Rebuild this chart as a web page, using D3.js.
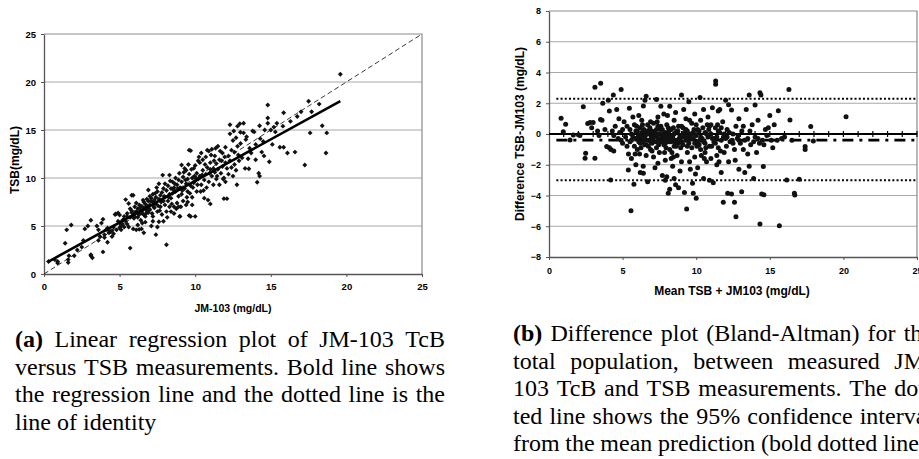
<!DOCTYPE html>
<html>
<head>
<meta charset="utf-8">
<script src="https://cdn.jsdelivr.net/npm/d3@7"></script>
<style>
  body { margin: 0; background: #fff; }
  svg { display: block; }
  .axis-label { font-family: "Liberation Sans", Arial, sans-serif; font-weight: bold; fill: #000; }
</style>
</head>
<body>
<svg id="figure"></svg>
<script>
// ---- data ----
const xTicks = [0, 5, 10, 15, 20, 25];
const leftYTicks = [0, 5, 10, 15, 20, 25];
const rightYTicks = [-8, -6, -4, -2, 0, 2, 4, 6, 8];

// (a) JM-103 (x) vs TSB (y)
const regressionPoints = [
  [0.3,1.3],[0.7,1.5],[0.9,1.15],[0.9,1.3],[1.4,3.2],[1.5,4.6],[1.6,1.5],[1.6,1.2],[1.65,1.9],[1.8,5.1],
  [2.0,1.9],[2.2,2.5],[2.6,3.5],[2.7,4.7],[2.9,5.0],[3.1,5.6],[3.1,2.0],[3.2,1.7],[3.1,1.9],[2.5,2.8],
  [3.5,5.0],[3.6,4.6],[3.6,3.5],[3.8,5.3],[3.9,5.7],[3.9,2.3],[4.0,4.1],[4.0,3.8],[4.2,3.3],[4.3,4.3],
  [4.3,4.5],[4.4,4.4],[4.5,3.9],[4.7,6.2],[4.8,4.6],[4.9,6.35],[4.9,5.5],[4.6,4.2],[4.2,4.8],[3.7,3.9],
  [4.1,4.6],[4.6,4.9],[4.75,6.25],[4.5,4.5],
  [5.0,6.15],[5.0,4.8],[5.1,5.0],[5.2,5.2],[5.3,4.9],[5.3,6.0],[5.4,7.75],[5.4,5.5],[5.5,5.2],[5.5,6.3],
  [5.6,7.35],[5.7,2.7],[5.7,5.9],[5.8,8.2],[5.8,6.6],[5.9,4.7],[5.9,6.1],[5.9,8.2],[5.6,4.9],[5.2,5.6],
  [5.0,5.3],[5.7,6.8],[5.5,6.0],[5.3,5.7],[5.1,4.6],[5.8,6.4],[5.95,5.8],
  [6.0,6.0],[6.0,7.0],[6.1,4.6],[6.1,6.5],[6.2,5.9],[6.2,6.8],[6.3,4.65],[6.3,7.2],[6.3,6.2],[6.4,6.6],
  [6.4,5.6],[6.5,7.0],[6.5,6.3],[6.6,4.3],[6.6,7.5],[6.6,6.8],[6.7,6.0],[6.7,7.3],[6.8,6.6],[6.8,7.8],
  [6.9,8.75],[6.9,7.0],[6.9,6.4],[6.0,6.4],[6.1,7.4],[6.2,6.3],[6.4,7.1],[6.5,6.6],[6.6,6.2],[6.7,6.9],
  [6.8,7.1],[6.9,7.6],[6.2,5.1],[6.5,5.3],[6.45,4.7],[6.7,5.4],[6.35,6.9],[6.55,7.7],[6.75,6.3],[6.95,6.8],
  [7.0,7.2],[7.0,6.7],[7.1,5.0],[7.1,7.9],[7.2,5.5],[7.2,7.5],[7.2,8.3],[7.3,6.9],[7.3,7.7],[7.4,4.1],
  [7.4,8.0],[7.4,7.3],[7.5,6.5],[7.5,8.6],[7.6,5.45],[7.6,7.8],[7.6,9.4],[7.7,8.2],[7.7,7.0],[7.8,8.5],
  [7.8,6.2],[7.9,5.5],[7.9,7.6],[7.9,8.9],[7.65,6.6],[7.0,8.1],[7.15,6.3],[7.35,8.4],[7.55,7.1],[7.75,7.5],
  [7.85,10.3],[7.45,9.0],[7.25,7.0],[7.05,7.6],[7.95,8.1],[7.5,4.9],[7.2,6.0],
  [8.0,8.0],[8.0,7.2],[8.1,3.05],[8.1,8.7],[8.1,6.5],[8.2,9.2],[8.2,7.6],[8.3,8.3],[8.3,10.3],[8.4,6.5],
  [8.4,8.9],[8.4,7.9],[8.5,9.6],[8.5,8.4],[8.6,7.0],[8.6,9.0],[8.7,8.6],[8.7,10.0],[8.8,7.4],[8.8,9.3],
  [8.9,8.1],[8.9,9.8],[8.97,6.0],[8.0,9.4],[8.15,5.9],[8.25,8.0],[8.35,9.7],[8.45,7.3],[8.55,8.8],[8.65,9.4],
  [8.75,6.8],[8.85,8.9],[8.95,10.5],[8.6,6.3],[8.3,7.0],[8.9,7.0],
  [9.0,9.0],[9.0,6.0],[9.1,9.6],[9.1,8.3],[9.1,11.35],[9.2,7.6],[9.2,10.1],[9.3,8.9],[9.3,11.0],[9.4,10.8],
  [9.4,9.4],[9.4,7.2],[9.5,9.9],[9.5,8.6],[9.6,6.1],[9.6,10.4],[9.6,12.9],[9.7,9.2],[9.7,12.85],[9.7,6.0],
  [9.8,10.0],[9.8,8.0],[9.9,11.0],[9.9,9.5],[10.0,6.0],[9.05,7.0],[9.25,10.6],[9.45,8.0],[9.55,11.4],[9.65,8.4],
  [9.75,10.9],[9.85,9.0],[9.95,10.2],[9.35,9.8],[9.15,8.7],[9.8,7.2],[9.5,7.5],
  [10.0,9.7],[10.0,11.3],[10.1,10.5],[10.1,8.6],[10.2,11.8],[10.2,9.9],[10.3,10.2],[10.36,8.6],[10.4,12.6],[10.4,9.3],
  [10.5,10.8],[10.5,11.9],[10.6,9.8],[10.6,7.9],[10.7,10.4],[10.7,12.2],[10.8,11.1],[10.85,7.7],[10.9,9.6],[10.9,12.8],
  [11.0,7.3],[11.0,10.9],[10.05,10.0],[10.25,12.2],[10.45,10.3],[10.65,11.4],[10.75,9.0],[10.95,10.5],[10.15,9.3],[10.55,8.7],
  [10.8,12.9],[10.3,11.6],
  [11.0,11.6],[11.1,10.2],[11.1,13.0],[11.2,9.3],[11.2,11.0],[11.3,12.3],[11.3,10.6],[11.4,11.5],[11.4,9.9],[11.5,13.3],
  [11.5,10.9],[11.6,11.9],[11.6,9.3],[11.7,10.5],[11.8,11.2],[11.8,12.6],[11.9,7.85],[11.9,10.0],[12.0,11.6],[12.0,9.6],
  [11.05,12.4],[11.25,11.8],[11.45,10.2],[11.65,12.8],[11.85,9.9],[11.35,13.1],[11.75,11.8],[11.95,12.2],
  [12.1,7.85],[12.1,11.0],[12.2,12.3],[12.2,10.4],[12.3,15.55],[12.3,14.6],[12.3,11.8],[12.4,12.9],[12.5,10.2],[12.5,13.9],
  [12.6,11.4],[12.6,12.7],[12.7,10.8],[12.76,9.3],[12.8,15.4],[12.8,13.3],[12.9,11.8],[12.95,15.65],[12.99,14.76],[12.4,11.1],
  [12.7,14.2],[12.0,13.2],[12.55,14.9],[12.85,12.4],
  [13.1,12.1],[13.2,15.7],[13.2,14.7],[13.3,11.0],[13.4,14.3],[13.5,12.0],[13.55,10.97],[13.6,13.1],[13.8,14.9],[13.9,14.8],
  [14.0,11.9],[14.0,13.5],[14.1,9.55],[14.2,10.5],[14.26,10.2],[14.26,15.45],[14.3,14.1],[14.4,12.7],[14.55,12.3],[14.6,15.0],
  [14.8,17.6],[14.8,16.25],[14.8,15.7],[14.9,11.7],[13.7,12.6],[13.0,13.6],[14.5,13.8],[13.35,14.0],
  [15.1,13.5],[15.2,15.3],[15.4,15.7],[15.6,13.2],[15.8,15.4],[15.85,13.2],[15.85,16.8],[16.1,12.6],[16.3,15.9],[16.6,12.7],
  [16.75,16.4],[17.0,16.9],[17.25,11.35],[17.5,18.0],[17.6,14.7],[17.7,16.9],[18.2,17.7],[18.4,15.45],[18.65,12.6],[18.7,14.7],
  [19.6,20.8],[15.0,15.0],[15.3,14.8]
];
const regressionLine = [[0.3, 1.3], [19.6, 18.0]];
const identityLine = [[0, 0], [25, 25]];

// (b) mean (x) vs difference TSB-JM103 (y)
const blandAltmanPoints = [
  [0.82,1.02],[1.13,0.63],[0.97,0.15],[1.43,-0.39],[1.65,-0.07],[2.0,-0.05],[2.1,-0.1],[2.33,1.78],[2.45,-1.58],[2.49,-1.26],
  [2.63,0.69],[2.79,0.74],[2.9,0.4],[3.12,3.04],[3.12,-1.58],[3.0,0.75],[3.3,0.2],[3.4,-0.1],[3.51,3.3],[3.5,0.95],
  [3.6,0.9],[3.65,2.0],[3.8,0.3],[3.92,-0.82],[4.03,2.2],[4.1,-0.9],[4.19,-2.99],[4.2,-1.0],[4.3,0.2],[4.37,2.54],
  [4.4,-0.1],[4.5,0.5],[4.6,1.6],[4.7,-0.3],[4.8,0.1],[4.9,2.9],[4.9,-0.4],[4.1,1.5],[4.4,-1.1],[4.75,1.0],
  [5.0,0.3],[5.0,-0.6],[5.1,0.8],[5.2,-0.2],[5.3,0.5],[5.39,-2.34],[5.4,-1.3],[5.46,1.67],[5.5,-0.5],[5.5,0.3],
  [5.57,-4.99],[5.6,-1.6],[5.6,0.0],[5.7,1.1],[5.77,-3.27],[5.8,-0.8],[5.8,0.6],[5.9,-0.3],[5.9,-2.0],[6.0,0.2],
  [6.0,-1.0],[6.1,1.2],[6.1,-0.5],[6.2,0.4],[6.2,-2.5],[6.3,-0.2],[6.3,0.9],[6.41,1.82],[6.41,-2.56],[6.5,-0.7],
  [6.52,2.2],[6.6,0.1],[6.6,-1.4],[6.7,-3.1],[6.7,0.6],[6.8,-0.4],[6.8,0.0],[6.9,-1.0],[6.9,0.8],[6.6,2.45],
  [5.3,-0.8],[5.7,-0.2],[6.05,-0.2],[6.25,-0.9],[6.45,0.3],[6.65,-0.4],[6.85,0.4],[5.95,0.5],[6.15,-1.3],[6.35,-0.5],
  [6.55,-0.1],[6.75,-0.8],[6.95,-0.2],[5.85,-1.3],[6.4,-2.1],
  [7.0,0.2],[7.0,-0.6],[7.1,-1.5],[7.1,0.7],[7.2,-0.1],[7.2,-2.2],[7.3,2.25],[7.3,0.3],[7.3,-0.9],[7.4,-0.3],
  [7.4,1.1],[7.5,-1.2],[7.5,0.0],[7.6,0.5],[7.6,-0.5],[7.7,-2.7],[7.7,-0.2],[7.8,1.3],[7.8,-0.7],[7.9,0.1],
  [7.9,-1.7],[8.0,-2.78],[8.0,-0.3],[8.0,0.6],[8.1,-3.86],[8.1,-0.1],[8.2,-1.0],[8.2,1.8],[8.3,-0.5],[8.3,0.3],
  [8.4,-2.1],[8.4,-0.2],[8.5,0.9],[8.5,-0.8],[8.6,-3.3],[8.6,0.1],[8.7,-0.4],[8.7,-1.4],[8.8,0.5],[8.8,-0.6],
  [8.9,-2.4],[8.9,-0.1],[7.05,-0.3],[7.15,0.1],[7.25,-0.5],[7.35,-0.1],[7.45,-0.7],[7.55,0.3],[7.65,-0.3],[7.75,0.0],
  [7.85,-0.4],[7.95,-0.9],[8.05,-0.5],[8.15,0.2],[8.25,-0.3],[8.35,-1.2],[8.45,0.4],[8.55,-0.4],[8.65,-0.8],[8.75,0.2],
  [8.85,-0.3],[8.95,-0.9],[7.4,-1.9],[7.9,-3.0],[8.2,-3.6],[8.5,-2.9],[8.8,-3.5],[7.6,1.8],[8.05,1.2],[8.6,1.4],
  [8.3,-1.6],[7.85,-1.2],
  [9.0,2.54],[9.0,-0.2],[9.0,-1.8],[9.1,0.4],[9.1,-0.7],[9.2,-3.8],[9.2,0.1],[9.3,-0.4],[9.3,1.0],[9.35,-4.88],
  [9.4,-1.2],[9.4,0.2],[9.5,-0.6],[9.5,2.1],[9.6,-2.3],[9.6,0.0],[9.7,0.7],[9.7,-0.9],[9.8,-3.86],[9.8,-0.3],
  [9.9,1.3],[9.9,-1.5],[10.0,-4.18],[10.0,-0.1],[10.0,0.6],[10.1,-2.2],[10.1,-0.5],[10.2,0.2],[10.26,2.38],[10.3,-1.0],
  [10.3,0.9],[10.4,-0.3],[10.5,-2.9],[10.5,1.6],[10.6,-0.6],[10.6,0.1],[10.7,-1.8],[10.8,-0.2],[10.8,1.1],[10.9,-0.8],
  [10.9,-3.0],[9.05,-0.5],[9.25,-0.2],[9.45,-0.4],[9.65,-0.3],[9.85,0.3],[10.05,-0.8],[10.25,-0.4],[10.45,0.4],[10.65,-0.9],
  [10.85,0.3],[9.15,1.6],[9.55,-1.8],[9.95,-2.6],[10.35,-1.4],[10.75,0.6],[9.75,-3.2],
  [11.0,0.0],[11.0,-1.6],[11.1,1.7],[11.16,-3.17],[11.2,-0.5],[11.32,3.45],[11.32,3.23],[11.3,0.4],[11.4,-2.0],[11.4,-0.2],
  [11.5,1.5],[11.5,-0.9],[11.6,0.1],[11.7,-2.5],[11.7,-0.4],[11.84,-4.44],[11.8,0.8],[11.9,-1.2],[12.0,-0.3],[12.0,2.2],
  [12.14,-3.86],[12.1,0.3],[12.2,-1.8],[12.3,-0.5],[12.4,1.56],[12.4,-3.9],[12.5,0.0],[12.6,-4.44],[12.6,-1.0],[12.7,-5.38],
  [12.7,0.5],[12.8,-0.3],[12.9,-2.3],[12.9,1.0],[13.0,-0.6],[11.05,-0.8],[11.25,-0.3],[11.45,0.6],[11.65,-1.1],[11.85,-0.2],
  [12.05,-0.8],[12.25,0.1],[12.45,-0.4],[12.65,-1.7],[12.85,-0.1],[12.2,1.9],[11.6,1.6],
  [13.09,-3.75],[13.1,0.2],[13.2,-1.0],[13.3,-2.5],[13.4,1.6],[13.5,-0.3],[13.6,2.54],[13.6,-2.1],[13.7,-0.7],[13.8,0.6],
  [13.9,-2.9],[14.0,1.89],[14.0,-0.2],[14.1,-1.2],[14.2,0.9],[14.33,2.69],[14.4,2.54],[14.33,-5.85],[14.45,-3.9],[14.6,-3.95],
  [14.56,-2.12],[14.5,-0.4],[14.7,0.3],[14.8,-0.1],[15.0,1.2],[15.1,-0.4],[15.2,-0.9],[15.3,0.6],[15.5,-0.4],[15.58,1.52],
  [15.65,-5.96],[15.8,-0.3],[16.0,-0.2],[13.3,-0.4],[13.65,0.2],[14.3,-0.6],[14.9,0.4],
  [16.15,-2.99],[16.3,2.9],[16.37,0.91],[16.5,-0.4],[16.67,-3.86],[16.7,-3.97],[17.0,-2.95],[17.4,-0.82],[17.4,-1.0],[17.78,0.48],
  [17.96,-0.46],[20.18,1.13],
  [6.1,-0.1],[6.3,0.1],[6.5,-0.3],[6.7,0.2],[6.9,-0.5],[7.1,-0.2],[7.3,0.0],[7.5,-0.4],[7.7,0.3],[7.9,-0.6],
  [8.1,0.4],[8.3,-0.2],[8.5,0.0],[8.7,0.2],[8.9,-0.4],[9.1,-0.1],[9.3,0.3],[9.5,-0.2],[9.7,0.0],[9.9,-0.6],
  [10.1,0.3],[10.3,-0.2],[10.5,-0.5],[10.7,0.0],[10.9,0.5],[11.1,-0.3],[11.3,-0.6],[11.5,0.2],[11.7,0.4],[11.9,0.0],
  [6.2,-0.6],[6.6,-0.7],[7.0,-1.1],[7.4,0.5],[7.8,-0.1],[8.2,-0.5],[8.6,-0.6],[9.0,0.5],[9.4,-0.8],[9.8,0.1],
  [10.2,-0.7],[10.6,-1.2],[11.0,0.6],[11.4,-1.4],[12.1,-0.2],[12.5,-0.6],[12.9,-0.4],[13.2,0.5],[13.5,-1.3],[13.9,-0.5],
  [14.2,-0.3],[14.6,-0.7],[5.6,-0.4],[5.9,0.2],[6.35,0.6],[7.35,0.8],[8.45,-1.5],[9.55,0.9],[10.55,-1.6],[11.55,-1.8]
];
const meanDifference = -0.4;
const limitsOfAgreement = [2.3, -3.0];
const referenceStart = 0.5;

const captionA = [
  { text: "(a) Linear regression plot of JM-103 TcB", justify: true },
  { text: "versus TSB measurements. Bold line shows", justify: true },
  { text: "the regression line and the dotted line is the", justify: true },
  { text: "line of identity", justify: false }
];
const captionB = [
  { text: "(b) Difference plot (Bland-Altman) for the", justify: true },
  { text: "total population, between measured JM-", justify: true },
  { text: "103 TcB and TSB measurements. The dot-", justify: true },
  { text: "ted line shows the 95% confidence interval", justify: true },
  { text: "from the mean prediction (bold dotted line).", justify: true }
];

// ---- layout ----
const width = 919, height = 459;
const svg = d3.select("#figure").attr("width", width).attr("height", height);
svg.append("rect").attr("width", width).attr("height", height).attr("fill", "#fff");

function drawFrame(g, x, y, yTicks, opts) {
  const [x0, x1] = x.range();
  const [y0, y1] = y.range();
  // horizontal gridlines
  g.selectAll(".grid")
    .data(yTicks.slice(1, -1))
    .enter()
    .append("line")
    .attr("x1", x0).attr("x2", x1)
    .attr("y1", d => y(d)).attr("y2", d => y(d))
    .attr("stroke", "#a8a8a8").attr("stroke-width", 1.2);
  // border (top, right)
  g.append("path")
    .attr("d", `M${x0},${y1}H${x1}V${y0}`)
    .attr("fill", "none").attr("stroke", "#8c8c8c").attr("stroke-width", 1.2);

  const axX = g.append("g").attr("transform", `translate(0,${y0})`)
    .call(d3.axisBottom(x).tickValues(xTicks).tickSize(3).tickSizeOuter(0).tickPadding(opts.xPad));
  const axY = g.append("g").attr("transform", `translate(${x0},0)`)
    .call(d3.axisLeft(y).tickValues(yTicks).tickSize(3).tickSizeOuter(0).tickPadding(opts.yPad));
  [axX, axY].forEach(ax => {
    ax.select(".domain").attr("stroke", "#555").attr("stroke-width", 1.3);
    ax.selectAll(".tick line").attr("stroke", "#555");
    ax.selectAll("text").attr("class", "axis-label").attr("font-size", opts.tickFont);
  });
}

// ---- panel (a) ----
const xa = d3.scaleLinear().domain([0, 25]).range([44, 422]);
const ya = d3.scaleLinear().domain([0, 25]).range([274, 34]);
const ga = svg.append("g");
drawFrame(ga, xa, ya, leftYTicks, { xPad: 6, yPad: 5, tickFont: 9.5 });

const line = d3.line().x(d => xa(d[0])).y(d => ya(d[1]));
ga.append("path").datum(identityLine).attr("d", line)
  .attr("fill", "none").attr("stroke", "#222").attr("stroke-width", 0.9).attr("stroke-dasharray", "5,3");

ga.selectAll(".pt")
  .data(regressionPoints)
  .enter()
  .append("path")
  .attr("transform", d => `translate(${xa(d[0])},${ya(d[1])}) rotate(45)`)
  .attr("d", d3.symbol(d3.symbolSquare, 12))
  .attr("fill", "#111");

ga.append("path").datum(regressionLine).attr("d", line)
  .attr("fill", "none").attr("stroke", "#000").attr("stroke-width", 2.6);

ga.append("text").attr("class", "axis-label").attr("font-size", 10.5)
  .attr("text-anchor", "middle").attr("x", 233).attr("y", 312).text("JM-103 (mg/dL)");
ga.append("text").attr("class", "axis-label").attr("font-size", 12)
  .attr("text-anchor", "middle").attr("transform", "translate(19,160) rotate(-90)").text("TSB(mg/dL)");

// ---- panel (b) ----
const xb = d3.scaleLinear().domain([0, 25]).range([549, 917]);
const yb = d3.scaleLinear().domain([-8, 8]).range([257, 11]);
const gb = svg.append("g");
drawFrame(gb, xb, yb, rightYTicks, { xPad: 8, yPad: 5, tickFont: 9 });

// zero line with unit ticks
gb.append("line").attr("x1", xb(0)).attr("x2", xb(25)).attr("y1", yb(0)).attr("y2", yb(0))
  .attr("stroke", "#000").attr("stroke-width", 2);
gb.selectAll(".minor")
  .data(d3.range(1, 26))
  .enter()
  .append("line")
  .attr("x1", d => xb(d)).attr("x2", d => xb(d))
  .attr("y1", yb(0) - 3).attr("y2", yb(0) + 3)
  .attr("stroke", "#000").attr("stroke-width", 1.2);

gb.selectAll(".limit")
  .data(limitsOfAgreement)
  .enter()
  .append("line")
  .attr("x1", xb(referenceStart)).attr("x2", xb(25))
  .attr("y1", d => yb(d)).attr("y2", d => yb(d))
  .attr("stroke", "#000").attr("stroke-width", 2).attr("stroke-dasharray", "2,2.2");

gb.append("line")
  .attr("x1", xb(referenceStart)).attr("x2", xb(25))
  .attr("y1", yb(meanDifference)).attr("y2", yb(meanDifference))
  .attr("stroke", "#000").attr("stroke-width", 2.6).attr("stroke-dasharray", "11,6,3,6");

gb.selectAll(".pt")
  .data(blandAltmanPoints)
  .enter()
  .append("circle")
  .attr("cx", d => xb(d[0])).attr("cy", d => yb(d[1]))
  .attr("r", 2.5)
  .attr("fill", "#111");

gb.append("text").attr("class", "axis-label").attr("font-size", 12)
  .attr("text-anchor", "middle").attr("x", 732).attr("y", 295).text("Mean TSB + JM103 (mg/dL)");
gb.append("text").attr("class", "axis-label").attr("font-size", 12)
  .attr("text-anchor", "middle").attr("transform", "translate(524,134) rotate(-90)").text("Difference TSB-JM103 (mg/dL)");

// ---- captions (justified, word by word) ----
function drawCaption(lines, x0, y0, colWidth, lineGap) {
  const g = svg.append("g")
    .attr("font-family", "'Liberation Serif', 'Times New Roman', Times, serif")
    .attr("font-size", 24)
    .attr("fill", "#000");
  lines.forEach((ln, i) => {
    const words = ln.text.split(" ").map((w, j) => {
      const t = g.append("text").text(w);
      if (i === 0 && j === 0) t.attr("font-weight", "bold");
      return { t, w: t.node().getComputedTextLength() };
    });
    const total = d3.sum(words, d => d.w);
    const gap = ln.justify ? (colWidth - total) / (words.length - 1) : 6;
    let x = x0;
    words.forEach(d => {
      d.t.attr("x", x).attr("y", y0 + i * lineGap);
      x += d.w + gap;
    });
  });
}
drawCaption(captionA, 15, 347, 430, 27.5);
drawCaption(captionB, 513, 341, 420, 27.5);
</script>
</body>
</html>
